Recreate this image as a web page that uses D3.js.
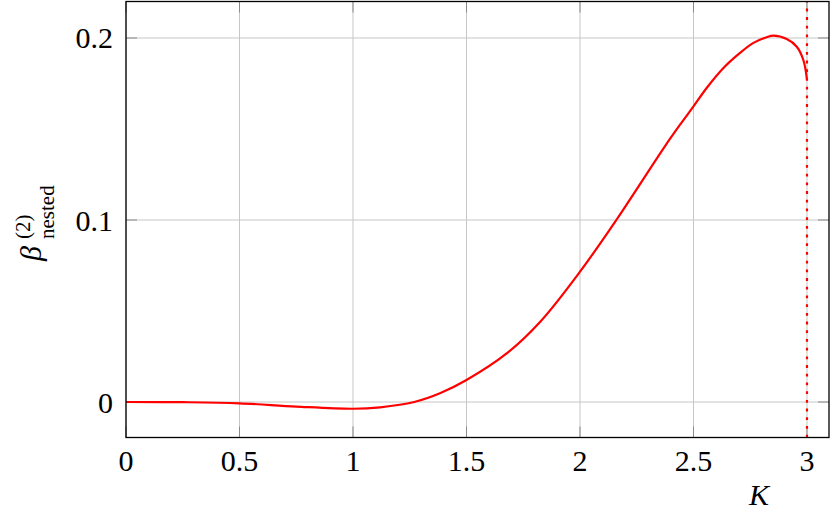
<!DOCTYPE html>
<html>
<head>
<meta charset="utf-8">
<script src="https://cdn.jsdelivr.net/npm/d3@7"></script>
<style>
  html, body { margin: 0; padding: 0; background: #fff; }
  svg { display: block; }
  text { font-family: "Liberation Serif", "DejaVu Serif", serif; fill: #000; }
</style>
</head>
<body>
<svg id="chart" width="832" height="518"></svg>
<script>
// ---- data ----
const kValues = [0, 0.25, 0.5, 0.75, 1.0, 1.12, 1.27, 1.383, 1.5, 1.677, 1.824, 2.0, 2.16, 2.374, 2.441, 2.5, 2.558, 2.632, 2.705, 2.764, 2.822, 2.852, 2.911, 2.955, 2.984, 3.0];
const betaValues = [0, -0.0001, -0.0007, -0.0025, -0.0037, -0.0029, 0.0, 0.0048, 0.0121, 0.0267, 0.044, 0.0716, 0.1, 0.1405, 0.1524, 0.1624, 0.1725, 0.1835, 0.1918, 0.1973, 0.2004, 0.2013, 0.1994, 0.1952, 0.1879, 0.1772];
const xTicks = [0, 0.5, 1, 1.5, 2, 2.5, 3];
const xTickLabels = ["0", "0.5", "1", "1.5", "2", "2.5", "3"];
const yTicks = [0, 0.1, 0.2];
const yTickLabels = ["0", "0.1", "0.2"];
const verticalMarker = [3];

// ---- layout ----
const pL = 126, pR = 829, pT = 1.5, pB = 437.5;
const x = d3.scaleLinear().domain([0, 3.097]).range([pL, pR]);
const y = d3.scaleLinear().domain([-0.0195, 0.22005]).range([pB, pT]);

const svg = d3.select("#chart");

// grid
const grid = svg.append("g");
grid.selectAll("line.gx").data(xTicks).enter().append("line")
  .attr("x1", d => x(d)).attr("x2", d => x(d))
  .attr("y1", pT).attr("y2", pB)
  .attr("stroke", "#c6c6c6").attr("stroke-width", 1);
grid.selectAll("line.gy").data(yTicks).enter().append("line")
  .attr("x1", pL).attr("x2", pR)
  .attr("y1", d => y(d)).attr("y2", d => y(d))
  .attr("stroke", "#c6c6c6").attr("stroke-width", 1);

// tick marks (inside, all four sides)
const tl = 11;
const ticks = svg.append("g").attr("stroke", "#8a8a8a").attr("stroke-width", 1);
xTicks.forEach(d => {
  ticks.append("line").attr("x1", x(d)).attr("x2", x(d)).attr("y1", pB).attr("y2", pB - tl);
  ticks.append("line").attr("x1", x(d)).attr("x2", x(d)).attr("y1", pT).attr("y2", pT + tl);
});
yTicks.forEach(d => {
  ticks.append("line").attr("x1", pL).attr("x2", pL + tl).attr("y1", y(d)).attr("y2", y(d));
  ticks.append("line").attr("x1", pR).attr("x2", pR - tl).attr("y1", y(d)).attr("y2", y(d));
});

// vertical dotted marker
svg.selectAll("line.vm").data(verticalMarker).enter().append("line")
  .attr("x1", d => x(d)).attr("x2", d => x(d))
  .attr("y1", pB).attr("y2", pT)
  .attr("stroke", "#ff0000").attr("stroke-width", 2.2)
  .attr("stroke-dasharray", "2.8,5.9");

// curve
const pts = kValues.map((k, i) => [k, betaValues[i]]);
const line = d3.line().x(d => x(d[0])).y(d => y(d[1])).curve(d3.curveCatmullRom.alpha(0.5));
svg.append("path").datum(pts)
  .attr("d", line)
  .attr("fill", "none").attr("stroke", "#ff0000").attr("stroke-width", 2.2)
  .attr("stroke-linejoin", "round");

// frame
svg.append("rect")
  .attr("x", pL).attr("y", pT)
  .attr("width", pR - pL).attr("height", pB - pT)
  .attr("fill", "none").attr("stroke", "#000").attr("stroke-width", 1.3);

// tick labels
svg.selectAll("text.xt").data(xTicks).enter().append("text")
  .attr("x", d => x(d)).attr("y", 470.5)
  .attr("text-anchor", "middle").attr("font-size", 30)
  .text((d, i) => xTickLabels[i]);
svg.selectAll("text.yt").data(yTicks).enter().append("text")
  .attr("x", 113).attr("y", d => y(d) + 10.5)
  .attr("text-anchor", "end").attr("font-size", 30)
  .text((d, i) => yTickLabels[i]);

// x label
svg.append("text").attr("x", 759).attr("y", 505)
  .attr("text-anchor", "middle").attr("font-size", 30).attr("font-style", "italic")
  .text("K");

// y label (rotated)
const yl = svg.append("g").attr("transform", "translate(0,261) rotate(-90)");
yl.append("text").attr("x", 0).attr("y", 41)
  .attr("font-size", 30).attr("font-style", "italic").text("β");
yl.append("text").attr("x", 22).attr("y", 30)
  .attr("font-size", 21).text("(2)");
yl.append("text").attr("x", 22).attr("y", 54)
  .attr("font-size", 21).text("nested");
</script>
</body>
</html>
